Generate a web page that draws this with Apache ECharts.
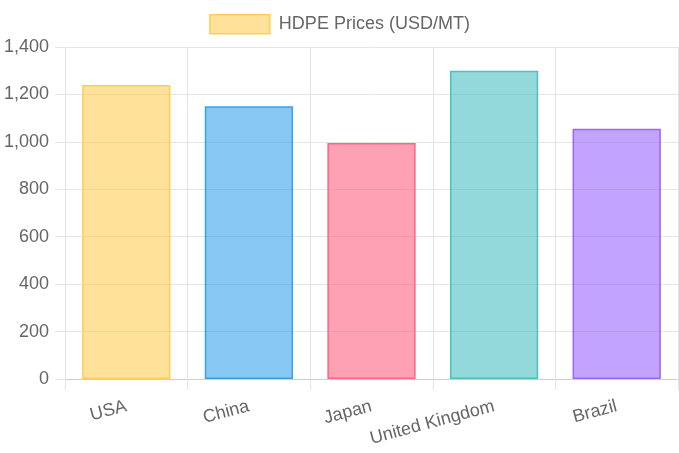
<!DOCTYPE html>
<html>
<head>
<meta charset="utf-8">
<script src="https://cdn.jsdelivr.net/npm/echarts@6/dist/echarts.min.js"></script>
<style>
  html, body { margin: 0; padding: 0; background: #fff; }
  #chart { width: 679px; height: 453px; }
</style>
</head>
<body>
<div id="chart"></div>
<script>
var countries = ['USA', 'China', 'Japan', 'United Kingdom', 'Brazil']
var prices = [1240, 1150, 995, 1300, 1055]
var yTicks = [0, 200, 400, 600, 800, 1000, 1200, 1400]
var seriesName = 'HDPE Prices (USD/MT)'

// chart.js style palette: fill, border
var fills = ['rgba(255,205,86,0.6)', 'rgba(54,162,235,0.6)', 'rgba(255,99,132,0.6)', 'rgba(75,192,192,0.6)', 'rgba(153,102,255,0.6)']
var borders = ['rgb(255,205,86)', 'rgb(54,162,235)', 'rgb(255,99,132)', 'rgb(75,192,192)', 'rgb(153,102,255)']

var font = "'Liberation Sans', Arial, Helvetica, sans-serif"
var gridColor = '#e5e5e5'

var chart = echarts.init(document.getElementById('chart'))

var barData = prices.map(function (v, i) {
  return {
    value: v,
    itemStyle: { color: fills[i], borderColor: borders[i], borderWidth: 1.5 }
  }
})

var option = {
  animation: false,
  textStyle: { fontFamily: font },
  legend: {
    top: 9,
    left: 'center',
    itemWidth: 60,
    itemHeight: 19,
    icon: 'rect',
    textStyle: { fontSize: 18, color: '#666', fontFamily: font, padding: [0, 0, 0, 4] },
    data: [{
      name: seriesName,
      itemStyle: { color: fills[0], borderColor: borders[0], borderWidth: 1.5 }
    }]
  },
  grid: {
    left: 65,
    right: 1,
    top: 47,
    bottom: 74
  },
  xAxis: {
    type: 'category',
    data: countries,
    boundaryGap: true,
    axisLine: { show: true, lineStyle: { color: '#cfcfcf' } },
    axisTick: { show: true, length: 11, lineStyle: { color: gridColor } },
    splitLine: { show: true, lineStyle: { color: gridColor } },
    axisLabel: {
      rotate: 15,
      margin: 27,
      fontSize: 18,
      color: '#666',
      fontFamily: font
    }
  },
  yAxis: {
    type: 'value',
    min: yTicks[0],
    max: yTicks[yTicks.length - 1],
    interval: yTicks[1] - yTicks[0],
    axisLine: { show: true, lineStyle: { color: gridColor } },
    axisTick: { show: true, length: 10, lineStyle: { color: gridColor } },
    splitLine: { show: true, lineStyle: { color: gridColor } },
    axisLabel: {
      margin: 16,
      fontSize: 18,
      color: '#666',
      fontFamily: font,
      formatter: function (v) { return v.toLocaleString('en-US') }
    }
  },
  series: [{
    name: seriesName,
    type: 'bar',
    barCategoryGap: '28%',
    data: barData
  }]
}

chart.setOption(option)
</script>
</body>
</html>
